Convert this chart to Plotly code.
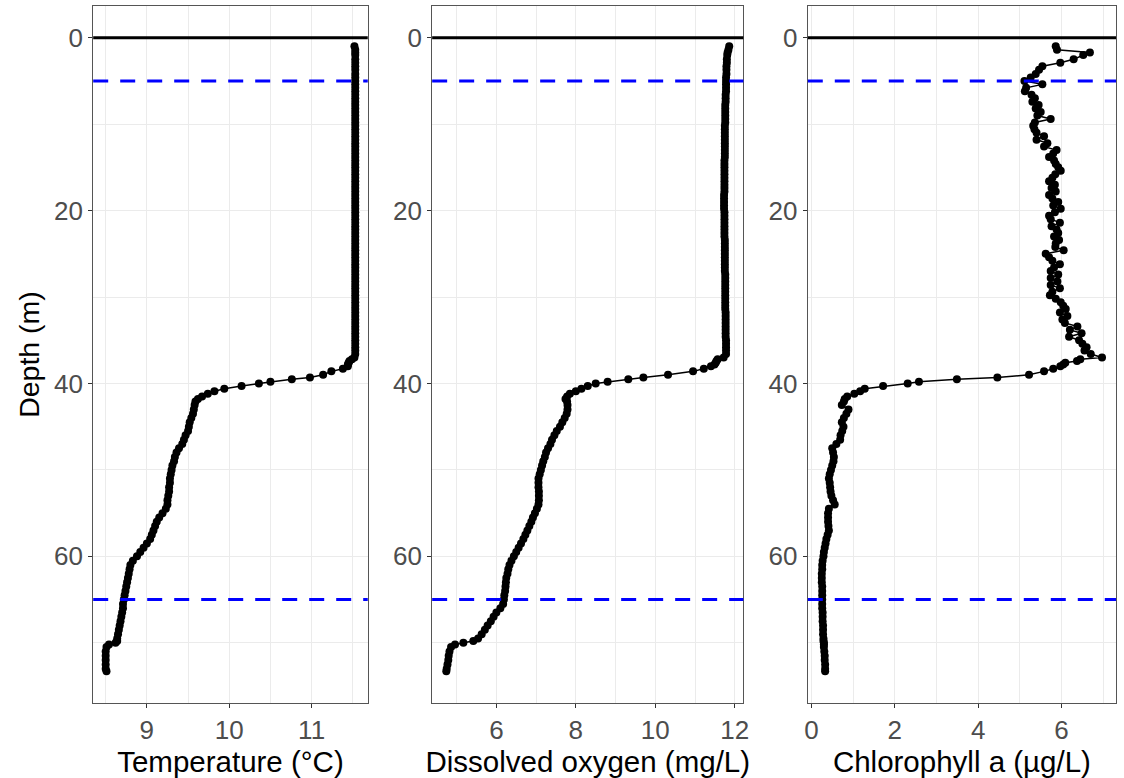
import plotly.graph_objects as go

# ---------------- data ----------------
depth = [
    1.0, 1.4, 1.7, 2.0, 2.5, 2.9, 3.3, 3.7, 4.2, 4.6, 5.0, 5.4,
    5.8, 6.2, 6.6, 7.0, 7.4, 7.8, 8.2, 8.6, 9.0, 9.4,
    9.8, 10.2, 10.6, 11.0, 11.4, 11.8, 12.2, 12.6, 13.0, 13.4,
    13.8, 14.2, 14.6, 15.0, 15.4, 15.8, 16.2, 16.6, 17.0, 17.4,
    17.8, 18.2, 18.6, 19.0, 19.4, 19.8, 20.2, 20.6, 21.0, 21.4,
    21.8, 22.2, 22.6, 23.0, 23.4, 23.8, 24.2, 24.6, 25.0, 25.4,
    25.8, 26.2, 26.6, 27.0, 27.4, 27.8, 28.2, 28.6, 29.0, 29.4,
    29.8, 30.2, 30.6, 31.0, 31.4, 31.8, 32.2, 32.6, 33.0, 33.4,
    33.8, 34.2, 34.6, 35.0, 35.4, 35.8, 36.2, 36.6,
    37.0, 37.2, 37.4, 37.6, 37.8, 38.0, 38.3, 38.6, 39.0, 39.3,
    39.5, 39.8, 40.0, 40.3, 40.6, 40.9, 41.2, 41.5, 41.8, 42.1,
    42.5, 43.0, 43.5, 44.0, 44.5, 45.0, 45.5, 46.0, 46.5, 47.0,
    47.5, 48.0, 48.5, 49.0, 49.5, 50.0, 50.5, 51.0, 51.5, 52.0,
    52.5, 53.0, 53.5, 54.0, 54.5, 55.0, 55.5, 56.0, 56.5, 57.0,
    57.5, 58.0, 58.5, 59.0, 59.5, 60.0, 60.5, 61.0, 61.5, 62.0,
    62.5, 63.0, 63.5, 64.0, 64.5, 65.0, 65.5, 66.0, 66.5, 67.0,
    67.5, 68.0, 68.5, 69.0, 69.5,
    69.8, 70.0, 70.2, 70.5, 71.0,
    71.5, 72.0, 72.5, 73.0, 73.3,
]

temperature = [
    11.52, 11.53, 11.53, 11.53, 11.53, 11.53, 11.53, 11.53, 11.53, 11.53, 11.53, 11.53,
    11.53, 11.53, 11.53, 11.53, 11.53, 11.53, 11.53, 11.53, 11.53, 11.53,
    11.53, 11.53, 11.53, 11.53, 11.53, 11.53, 11.53, 11.53, 11.53, 11.53,
    11.53, 11.53, 11.53, 11.53, 11.53, 11.53, 11.53, 11.53, 11.53, 11.53,
    11.53, 11.53, 11.53, 11.53, 11.53, 11.53, 11.53, 11.53, 11.53, 11.53,
    11.53, 11.53, 11.53, 11.53, 11.53, 11.53, 11.53, 11.53, 11.53, 11.53,
    11.53, 11.53, 11.53, 11.53, 11.53, 11.53, 11.53, 11.53, 11.53, 11.53,
    11.53, 11.53, 11.53, 11.53, 11.53, 11.53, 11.53, 11.53, 11.53, 11.53,
    11.53, 11.53, 11.53, 11.53, 11.53, 11.53, 11.53, 11.53,
    11.52, 11.49, 11.46, 11.45, 11.44, 11.44, 11.38, 11.24, 11.14, 10.98,
    10.76, 10.50, 10.36, 10.15, 9.94, 9.82, 9.74, 9.67, 9.62, 9.59,
    9.58, 9.57, 9.56, 9.54, 9.52, 9.51, 9.50, 9.47, 9.45, 9.43,
    9.39, 9.36, 9.34, 9.33, 9.31, 9.30, 9.29, 9.28, 9.28, 9.27,
    9.27, 9.26, 9.25, 9.25, 9.23, 9.19, 9.15, 9.12, 9.10, 9.08,
    9.06, 9.04, 9.00, 8.96, 8.92, 8.88, 8.83, 8.80, 8.79, 8.78,
    8.77, 8.76, 8.75, 8.74, 8.73, 8.72, 8.71, 8.71, 8.70, 8.69,
    8.68, 8.67, 8.66, 8.65, 8.64,
    8.64, 8.62, 8.54, 8.51, 8.50,
    8.50, 8.50, 8.50, 8.50, 8.51,
]

oxygen = [
    11.86, 11.84, 11.82, 11.81, 11.80, 11.80, 11.79, 11.79, 11.79, 11.78, 11.78, 11.78,
    11.78, 11.78, 11.77, 11.77, 11.77, 11.76, 11.76, 11.76, 11.76, 11.76,
    11.76, 11.75, 11.75, 11.75, 11.75, 11.75, 11.75, 11.75, 11.75, 11.75,
    11.75, 11.74, 11.74, 11.74, 11.74, 11.74, 11.74, 11.74, 11.74, 11.74,
    11.74, 11.73, 11.73, 11.73, 11.73, 11.73, 11.74, 11.74, 11.74, 11.74,
    11.74, 11.74, 11.74, 11.74, 11.75, 11.75, 11.75, 11.75, 11.75, 11.75,
    11.75, 11.75, 11.75, 11.75, 11.76, 11.76, 11.76, 11.76, 11.76, 11.76,
    11.76, 11.76, 11.76, 11.76, 11.76, 11.77, 11.77, 11.77, 11.77, 11.77,
    11.77, 11.77, 11.77, 11.78, 11.78, 11.78, 11.78, 11.78,
    11.72, 11.57, 11.54, 11.52, 11.49, 11.40, 11.22, 10.95, 10.32, 9.70,
    9.32, 8.80, 8.50, 8.30, 8.14, 8.00, 7.85, 7.78, 7.74, 7.78,
    7.79, 7.79, 7.77, 7.72, 7.66, 7.60, 7.52, 7.46, 7.40, 7.36,
    7.30, 7.25, 7.22, 7.18, 7.15, 7.12, 7.09, 7.06, 7.06, 7.06,
    7.07, 7.07, 7.07, 7.06, 7.02, 6.97, 6.92, 6.88, 6.83, 6.78,
    6.73, 6.68, 6.62, 6.56, 6.50, 6.44, 6.38, 6.33, 6.30, 6.28,
    6.25, 6.24, 6.23, 6.22, 6.20, 6.19, 6.17, 6.10, 6.00, 5.93,
    5.86, 5.78, 5.71, 5.63, 5.54,
    5.42, 5.17, 4.96, 4.86, 4.82,
    4.80, 4.79, 4.77, 4.75, 4.74,
]

chlorophyll = [
    5.86, 5.89, 6.68, 6.52, 6.29, 5.97, 5.54, 5.46, 5.38, 5.26, 5.11, 5.54,
    5.15, 5.12, 5.28, 5.36, 5.30, 5.45, 5.38, 5.50, 5.42, 5.74,
    5.36, 5.32, 5.35, 5.40, 5.58, 5.40, 5.66, 5.58, 5.88, 5.80,
    5.70, 5.82, 5.86, 5.92, 5.98, 5.85, 5.78, 5.70, 5.84, 5.76,
    5.86, 5.70, 5.78, 5.92, 5.80, 5.98, 5.84, 5.70, 5.74, 5.96,
    5.76, 5.88, 5.92, 5.82, 5.94, 5.86, 5.85, 6.05, 5.62, 5.70,
    5.78, 5.96, 5.82, 5.74, 5.92, 5.74, 5.90, 5.74, 5.96, 5.78,
    5.72, 5.86, 5.98, 6.04, 6.10, 5.96, 6.14, 6.02, 6.08, 6.38,
    6.20, 6.48, 6.18, 6.42, 6.50, 6.60, 6.55, 6.70,
    6.97, 6.45, 6.37, 6.09, 6.04, 5.97, 5.80, 5.58, 5.22, 4.46,
    3.49, 2.58, 2.31, 1.72, 1.28, 1.17, 1.03, 0.86, 0.80, 0.78,
    0.73, 0.89, 0.84, 0.78, 0.73, 0.77, 0.74, 0.70, 0.69, 0.60,
    0.50, 0.52, 0.54, 0.53, 0.50, 0.47, 0.44, 0.42, 0.44, 0.45,
    0.46, 0.48, 0.52, 0.56, 0.42, 0.40, 0.40, 0.40, 0.41, 0.42,
    0.39, 0.36, 0.34, 0.32, 0.30, 0.29, 0.27, 0.26, 0.26, 0.25,
    0.25, 0.25, 0.26, 0.26, 0.26, 0.26, 0.26, 0.26, 0.27, 0.27,
    0.27, 0.28, 0.28, 0.28, 0.29,
    0.29, 0.30, 0.30, 0.30, 0.31,
    0.32, 0.32, 0.33, 0.33, 0.33,
]

surface_depth = [0]
layer_depths = [5, 65]

x_titles = ["Temperature (°C)", "Dissolved oxygen (mg/L)", "Chlorophyll a (µg/L)"]
x_major = [1, 2, 2]
x_minor = [0.5, 1, 1]
y_tickvals = [0, 20, 40, 60]
y_title = "Depth (m)"

# ---------------- figure ----------------
W, H = 1124, 778
FONT = "Liberation Sans, Arial, sans-serif"
x_domains = [(90 / W, 367 / W), (432 / W, 746 / W), (811 / W, 1122 / W)]
y_domain = ((778 - 703) / H, (778 - 6) / H)


def padded(lo, hi, f=0.05):
    s = hi - lo
    return [lo - f * s, hi + f * s]


series = [temperature, oxygen, chlorophyll]
ylo = min(min(depth), min(surface_depth))
yhi = max(depth)
yr = padded(ylo, yhi)

fig = go.Figure()
layout = dict(
    width=W, height=H, margin=dict(l=0, r=0, t=0, b=0),
    paper_bgcolor="white", plot_bgcolor="white", showlegend=False,
    font=dict(family=FONT),
)
shapes = []
for i, vals in enumerate(series):
    n = "" if i == 0 else str(i + 1)
    fig.add_trace(go.Scatter(
        x=vals, y=depth, mode="lines+markers",
        line=dict(color="black", width=1.5),
        marker=dict(color="black", size=8),
        xaxis="x" + n, yaxis="y" + n, cliponaxis=True,
    ))
    xr = padded(min(vals), max(vals))
    layout["xaxis" + n] = dict(
        domain=list(x_domains[i]), range=xr, anchor="y" + n,
        dtick=x_major[i], tick0=0,
        showgrid=True, gridcolor="#EBEBEB", gridwidth=1.1,
        minor=dict(dtick=x_minor[i], tick0=0, showgrid=True, gridcolor="#EBEBEB", gridwidth=0.6),
        showline=True, mirror=True, linecolor="#555555", linewidth=1.2,
        ticks="outside", ticklen=4, tickcolor="#333333", tickwidth=1,
        tickfont=dict(size=26, color="#4D4D4D", family=FONT),
        title=dict(text=x_titles[i], font=dict(size=29.5, color="black", family=FONT), standoff=1),
        zeroline=False,
    )
    ydict = dict(
        domain=list(y_domain), range=[yr[1], yr[0]], anchor="x" + n,
        tickvals=y_tickvals,
        showgrid=True, gridcolor="#EBEBEB", gridwidth=1.1,
        minor=dict(dtick=10, tick0=0, showgrid=True, gridcolor="#EBEBEB", gridwidth=0.6),
        showline=True, mirror=True, linecolor="#555555", linewidth=1.2,
        ticks="outside", ticklen=4, tickcolor="#333333", tickwidth=1,
        tickfont=dict(size=26, color="#4D4D4D", family=FONT),
        zeroline=False,
    )
    if i == 0:
        ydict["title"] = dict(text=y_title, font=dict(size=28.5, color="black", family=FONT), standoff=6)
    layout["yaxis" + n] = ydict
    for d0 in surface_depth:
        shapes.append(dict(type="line", xref="x" + n + " domain", yref="y" + n,
                           x0=0, x1=1, y0=d0, y1=d0,
                           line=dict(color="black", width=3), layer="above"))
    for d0 in layer_depths:
        shapes.append(dict(type="line", xref="x" + n + " domain", yref="y" + n,
                           x0=0, x1=1, y0=d0, y1=d0,
                           line=dict(color="#0000FF", width=3, dash="15px,12px"), layer="above"))

layout["shapes"] = shapes
fig.update_layout(**layout)
fig.write_html("out.html")
